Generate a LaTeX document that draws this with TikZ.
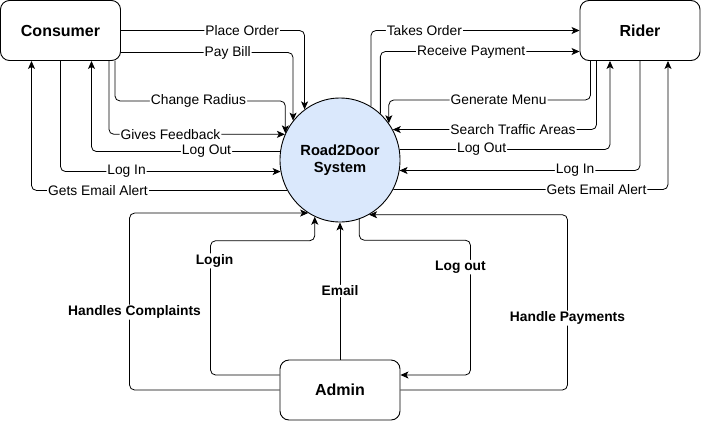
\documentclass[tikz,border=0pt]{standalone}
\usepackage{fontspec}
\setmainfont{Liberation Sans}
\usetikzlibrary{arrows.meta,calc,shapes.geometric}
\definecolor{sysblue}{HTML}{DAE8FC}
\tikzset{
  box/.style={draw, line width=0.9pt, rounded corners=9pt, minimum width=120pt, minimum height=60pt,
    font=\bfseries\fontsize{16}{19}\selectfont},
  flow/.style={line width=0.8pt, rounded corners=5pt, -{Stealth[length=8pt,width=7pt,inset=2pt]}},
  lbl/.style={fill=white, inner sep=1pt, font=\fontsize{13.8}{16}\selectfont},
  alb/.style={lbl, font=\bfseries\fontsize{13.8}{16}\selectfont}
}
\begin{document}
\begin{tikzpicture}[x=1pt,y=-1pt]
    \useasboundingbox (0,0) rectangle (701,421);

    % Entities and system
    \node[box] (cons) at (60.5,30.5) {Consumer};
    \node[box] (rider) at (640,30.5) {Rider};
    \node[box] (adm) at (340,390) {Admin};
    \node[draw, ellipse, line width=0.9pt, fill=sysblue, minimum width=120pt, minimum height=124pt,
      inner sep=0pt, align=center, font=\bfseries\fontsize{14.7}{17.6}\selectfont]
      (sys) at (340,160) {Road2Door\\System};

    % Consumer flows
    \draw[flow] (cons.east) -| node[lbl,pos=.33] {Place Order} (sys.125);
    \draw[flow] ($(cons.east)+(0,22)$) -| node[lbl,pos=.31] {Pay Bill} (sys.140);
    \draw[flow] ($(cons.south east)+(-6,0)$) -- ++(0,40) -| node[lbl,pos=.245] {Change Radius} (sys.154);
    \draw[flow] ($(cons.south east)+(-12,0)$) |- node[lbl,pos=.675] {Gives Feedback} (sys.155.5);
    \draw[flow] (sys.172) -| node[lbl,pos=.195] {Log Out} ($(cons.south)+(31,0)$);
    \draw[flow] (cons.south) |- node[lbl,pos=.65] {Log In} (sys.191);
    \draw[flow] (sys.210) -| node[lbl,pos=.37] {Gets Email Alert} ($(cons.south)+(-29,0)$);

    % Rider flows
    \draw[flow] (sys.60) |- node[lbl,pos=.628] {Takes Order} (rider.west);
    \draw[flow] (sys.49) |- node[lbl,pos=.728] {Receive Payment} ($(rider.west)+(0,21)$);
    \draw[flow] ($(rider.south west)+(11,0)$) -- ++(0,39) -| node[lbl,pos=.228] {Generate Menu} (sys.37);
    \draw[flow] ($(rider.south west)+(17,0)$) |- node[lbl,pos=.705] {Search Traffic Areas} (sys.30);
    \draw[flow] (sys.10) -| node[lbl,pos=.195] {Log Out} ($(rider.south)+(-30,0)$);
    \draw[flow] (rider.south) |- node[lbl,pos=.635] {Log In} (sys.-10);
    \draw[flow] (sys.-29) -| node[lbl,pos=.37] {Gets Email Alert} ($(rider.south)+(28,0)$);

    % Admin flows
    \draw[flow] (adm.west) -- ++(-150,0) |- node[alb,pos=.22,xshift=5pt] {Handles Complaints} (sys.239);
    \draw[flow] ($(adm.west)+(0,-15)$) -- ++(-69,0) |- node[alb,pos=.425,xshift=4pt] {Login} ($(sys.246)+(0,24)$) -- (sys.246);
    \draw[flow] (adm.north) -- node[alb] {Email} (sys.south);
    \draw[flow] (sys.-72) -- ++(0,21) -| node[alb,pos=.6,xshift=-10pt] {Log out} ($(adm.east)+(70,-15)$) -- ($(adm.east)+(0,-15)$);
    \draw[flow] (adm.east) -- ++(167,0) |- node[alb,pos=.205] {Handle Payments} (sys.-62);
\end{tikzpicture}
\end{document}
